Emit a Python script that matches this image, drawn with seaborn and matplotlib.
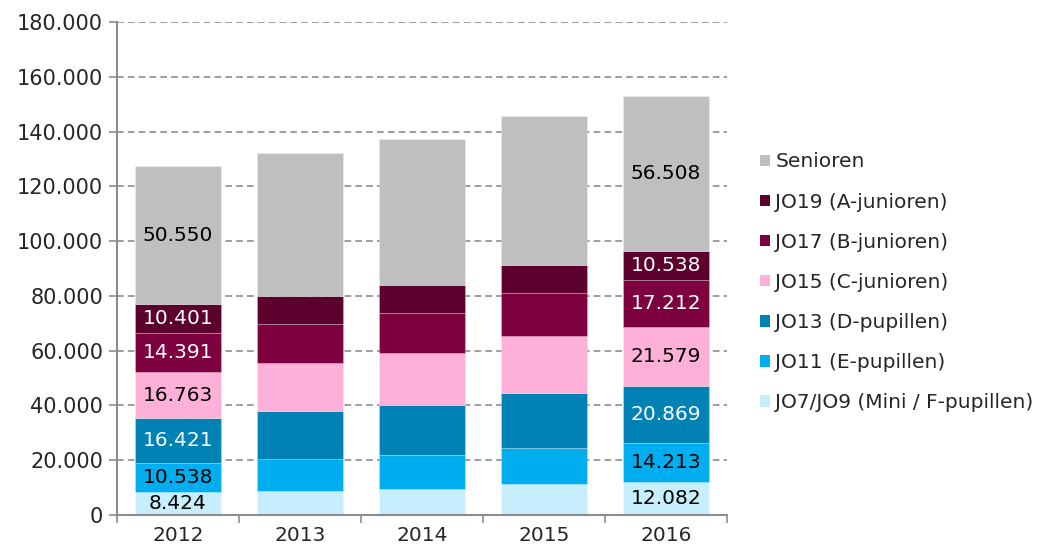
import matplotlib
matplotlib.use("Agg")
import matplotlib.pyplot as plt
import seaborn as sns
import numpy as np
import pandas as pd
from matplotlib.ticker import FuncFormatter, MultipleLocator
from matplotlib.patches import Patch

years = ["2012", "2013", "2014", "2015", "2016"]
series_names = [
    "JO7/JO9 (Mini / F-pupillen)",
    "JO11 (E-pupillen)",
    "JO13 (D-pupillen)",
    "JO15 (C-junioren)",
    "JO17 (B-junioren)",
    "JO19 (A-junioren)",
    "Senioren",
]
f_pup = [8424, 8900, 9500, 11350, 12082]
e_pup = [10538, 11600, 12300, 13300, 14213]
d_pup = [16421, 17300, 18500, 19750, 20869]
c_jun = [16763, 17650, 19000, 20950, 21579]
b_jun = [14391, 14250, 14500, 15850, 17212]
a_jun = [10401, 10250, 10250, 10100, 10538]
senioren = [50550, 52050, 53200, 54550, 56508]
labelled_years = ["2012", "2016"]

series_values = [f_pup, e_pup, d_pup, c_jun, b_jun, a_jun, senioren]
colors = ["#C7EEFC", "#00AEEF", "#0083B4", "#FFB0D8", "#7D003F", "#5C002E", "#BFBFBF"]
label_colors = ["black", "black", "white", "black", "white", "white", "black"]

def fmt(v):
    return f"{int(round(v)):,}".replace(",", ".")

sns.set_theme(style="white")
plt.rcParams["font.family"] = ["DejaVu Sans"]

fig = plt.figure(figsize=(10.55, 5.49), dpi=100)
ax = fig.add_axes([0.1109, 0.0619, 0.578, 0.898])

bottom = np.zeros(len(years))
for name, vals, col, lcol in zip(series_names, series_values, colors, label_colors):
    df = pd.DataFrame({"year": years, "value": vals})
    sns.barplot(data=df, x="year", y="value", color=col, bottom=bottom,
                width=0.71, errorbar=None, ax=ax, saturation=1,
                linewidth=0.5, edgecolor=(1, 1, 1, 0.35))
    for i, (yr, v) in enumerate(zip(years, vals)):
        if yr in labelled_years:
            ax.text(i, bottom[i] + v / 2, fmt(v), ha="center", va="center",
                    color=lcol, fontsize=14.5)
    bottom = bottom + np.array(vals)

ax.set_ylim(0, 180000)
ax.set_xlim(-0.5, 4.5)
ax.yaxis.set_major_locator(MultipleLocator(20000))
ax.yaxis.set_major_formatter(FuncFormatter(lambda v, p: fmt(v)))
ax.set_xlabel("")
ax.set_ylabel("")

for yv in range(20000, 180001, 20000):
    ax.axhline(yv, color="#8C8C8C", linestyle=(0, (4, 2.5)), linewidth=1.2, zorder=0)

for side in ["top", "right"]:
    ax.spines[side].set_visible(False)
for side in ["left", "bottom"]:
    ax.spines[side].set_color("#8C8C8C")
    ax.spines[side].set_linewidth(1.5)

ax.tick_params(axis="y", which="major", direction="out", length=6, width=1.2,
               color="#8C8C8C", labelsize=15, pad=4, left=True)
ax.set_xticks(range(len(years)))
ax.set_xticklabels(years)
ax.tick_params(axis="x", which="major", length=0, labelsize=14.5, pad=8)
ax.set_xticks(np.arange(-0.5, 5, 1.0), minor=True)
ax.tick_params(axis="x", which="minor", direction="out", length=6, width=1.2,
               color="#8C8C8C", bottom=True)

handles = [Patch(facecolor=c, edgecolor="none") for c in colors][::-1]
labels = series_names[::-1]
fig.legend(handles, labels, loc="upper left", bbox_to_anchor=(0.713, 0.737),
           frameon=False, fontsize=14.5, handlelength=0.5, handleheight=0.5,
           handletextpad=0.25, labelspacing=1.05, borderaxespad=0)

fig.savefig("out.png", dpi=100)
